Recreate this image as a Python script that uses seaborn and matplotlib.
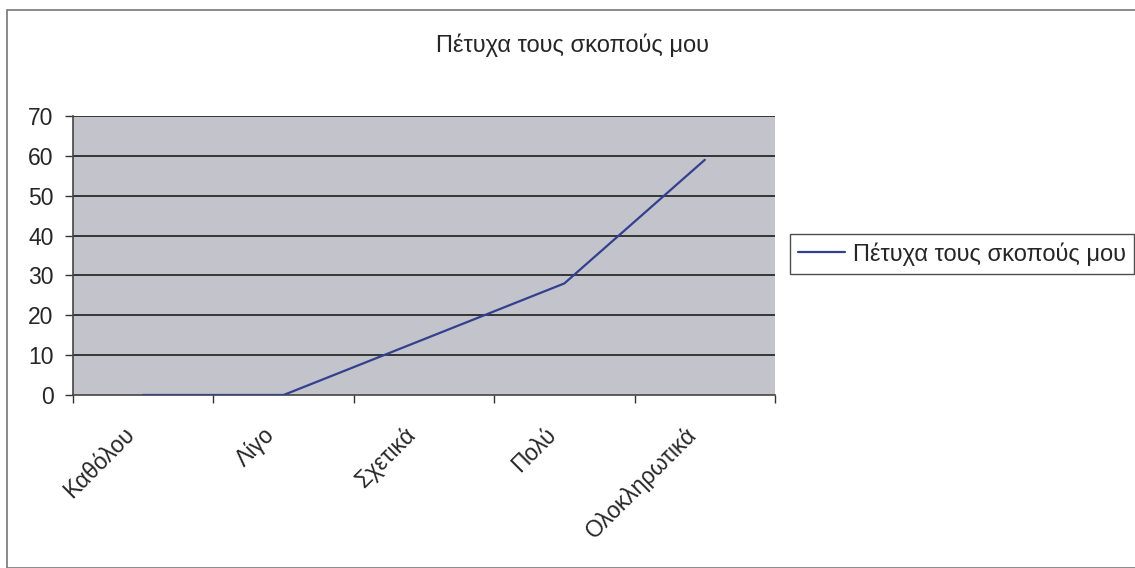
import matplotlib
matplotlib.use("Agg")
import matplotlib.pyplot as plt
import matplotlib.patches as mpatches
import matplotlib.transforms as mtransforms
from matplotlib.ticker import FixedLocator
import seaborn as sns
import pandas as pd

categories = ["Καθόλου", "Λίγο", "Σχετικά", "Πολύ", "Ολοκληρωτικά"]
values = [0, 0, 14, 28, 59]
series_name = "Πέτυχα τους σκοπούς μου"
yticks = [0, 10, 20, 30, 40, 50, 60, 70]

sns.set_theme(style="white")
plt.rcParams['font.family'] = ['Liberation Sans', 'DejaVu Sans']

df = pd.DataFrame({"cat": categories, "val": values})

fig = plt.figure(figsize=(11.35, 5.68), dpi=100)
fig.patch.set_facecolor("white")
ax = fig.add_axes([73/1135, 1-395/568, (775-73)/1135, (395-116)/568])
ax.set_facecolor("#C2C3CB")

for y in yticks[1:]:
    ax.axhline(y, color="#1E1E1E", lw=1.2, zorder=1)

sns.lineplot(data=df, x="cat", y="val", ax=ax, color="#33408F", lw=1.6,
             label=series_name, legend=False, zorder=3)

ax.set_xlim(-0.5, len(categories) - 0.5)
ax.set_ylim(0, 70)
ax.set_xlabel("")
ax.set_ylabel("")
ax.set_yticks(yticks)
ax.set_yticklabels([str(v) for v in yticks], fontsize=16.5)
ax.set_xticks(range(len(categories)))
ax.set_xticklabels(categories, rotation=45, ha="right", va="center",
                   rotation_mode="anchor", fontsize=16.5)
ax.xaxis.set_minor_locator(FixedLocator([i - 0.5 for i in range(len(categories) + 1)]))
ax.tick_params(axis="x", which="major", length=0, pad=26)
ax.tick_params(axis="x", which="minor", length=6, width=1, color="#333333", direction="out", bottom=True)
ax.tick_params(axis="y", length=6, width=1, color="#333333", direction="out", left=True, pad=8)

for lab in ax.get_xticklabels():
    lab.set_transform(lab.get_transform() + mtransforms.ScaledTranslation(-0.12, 0, fig.dpi_scale_trans))

for s in ["top", "right"]:
    ax.spines[s].set_visible(False)
ax.spines["left"].set_color("#444444")
ax.spines["bottom"].set_color("#444444")
ax.spines["left"].set_linewidth(1.2)
ax.spines["bottom"].set_linewidth(1.2)

fig.text(573/1135, 1-45/568, series_name, ha="center", va="center", fontsize=17)

handles, labels = ax.get_legend_handles_labels()
leg = fig.legend(handles, labels, loc="center left", bbox_to_anchor=(790/1135, 1-254/568),
                 frameon=True, fancybox=False, fontsize=17, handlelength=2.0,
                 borderpad=0.35, handletextpad=0.3, borderaxespad=0)
leg.get_frame().set_edgecolor("#222222")
leg.get_frame().set_linewidth(1.0)

fig.patches.append(mpatches.Rectangle((7/1135, 0), 1.2, 1-10/568, transform=fig.transFigure,
                                      fill=False, edgecolor="#777777", lw=1.2))

fig.savefig("out.png", dpi=100)
